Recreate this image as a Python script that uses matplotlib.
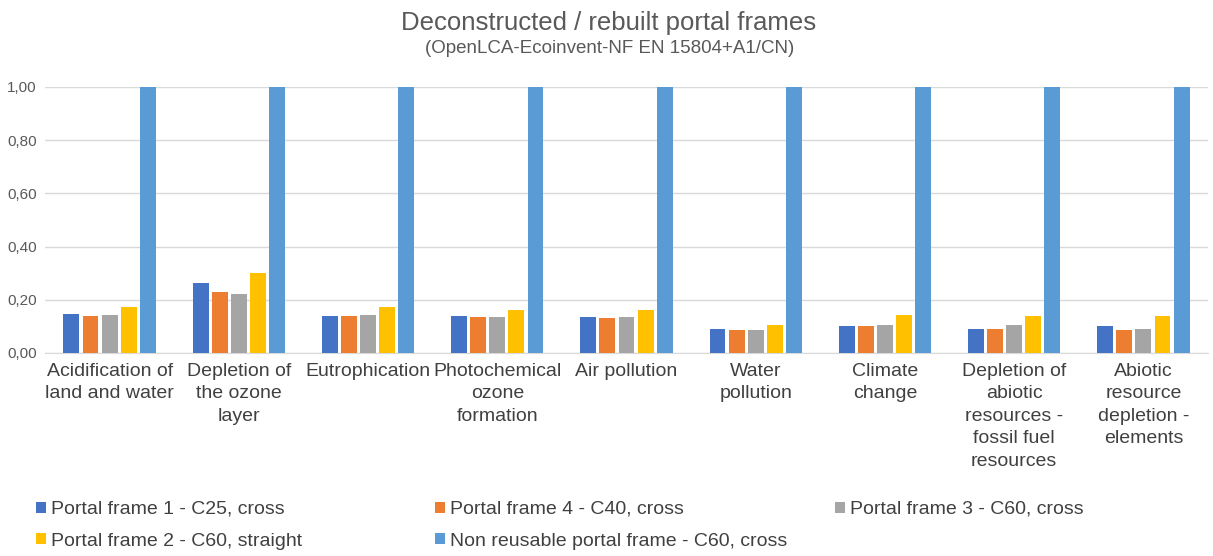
import matplotlib
matplotlib.use("Agg")
import matplotlib.pyplot as plt
import numpy as np
from matplotlib.patches import Patch

plt.rcParams['font.family'] = ['Liberation Sans', 'DejaVu Sans']

categories = [
    "Acidification of\nland and water",
    "Depletion of\nthe ozone\nlayer",
    "Eutrophication",
    "Photochemical\nozone\nformation",
    "Air pollution",
    "Water\npollution",
    "Climate\nchange",
    "Depletion of\nabiotic\nresources -\nfossil fuel\nresources",
    "Abiotic\nresource\ndepletion -\nelements",
]
series_names = [
    "Portal frame 1 - C25, cross",
    "Portal frame 4 - C40, cross",
    "Portal frame 3 - C60, cross",
    "Portal frame 2 - C60, straight",
    "Non reusable portal frame - C60, cross",
]
pf1 = [0.147, 0.263, 0.140, 0.140, 0.135, 0.092, 0.100, 0.090, 0.100]
pf4 = [0.140, 0.229, 0.140, 0.137, 0.132, 0.087, 0.103, 0.090, 0.087]
pf3 = [0.143, 0.222, 0.143, 0.137, 0.135, 0.087, 0.107, 0.105, 0.090]
pf2 = [0.173, 0.300, 0.173, 0.160, 0.160, 0.105, 0.143, 0.138, 0.140]
nonreuse = [1.0, 1.0, 1.0, 1.0, 1.0, 1.0, 1.0, 1.0, 1.0]
yticks = [0.0, 0.2, 0.4, 0.6, 0.8, 1.0]
ytick_labels = ["0,00", "0,20", "0,40", "0,60", "0,80", "1,00"]

colors = ["#4472C4", "#ED7D31", "#A5A5A5", "#FFC000", "#5B9BD5"]
series = [pf1, pf4, pf3, pf2, nonreuse]

W, H = 1213, 556
fig = plt.figure(figsize=(W / 100, H / 100), dpi=100)
ax = fig.add_axes([45 / W, 1 - 353 / H, 1 - 45 / W - 5 / W, (353 - 87) / H])

x = np.arange(len(categories))
slot = 0.148
bw = 0.123
for i, (vals, c, name) in enumerate(zip(series, colors, series_names)):
    ax.bar(x + (i - 2) * slot, vals, width=bw, color=c, label=name, zorder=3)

ax.set_xlim(-0.5, len(categories) - 0.5)
ax.set_ylim(0, 1.0)
ax.set_yticks(yticks)
ax.set_yticklabels(ytick_labels, fontsize=11, color="#595959")
ax.set_xticks(x)
ax.set_xticklabels(categories, fontsize=14, color="#404040", linespacing=1.43)
ax.tick_params(axis='both', length=0)
ax.tick_params(axis='x', pad=7)
ax.tick_params(axis='y', pad=6)
for s in ['top', 'right', 'left']:
    ax.spines[s].set_visible(False)
ax.spines['bottom'].set_color("#D9D9D9")
ax.yaxis.grid(True, color="#D9D9D9", linewidth=1, zorder=0)
ax.set_axisbelow(True)

fig.text(609 / W, 1 - 30 / H, "Deconstructed / rebuilt portal frames", ha='center', va='baseline',
         fontsize=18.5, color="#595959")
fig.text(610 / W, 1 - 53 / H, "(OpenLCA-Ecoinvent-NF EN 15804+A1/CN)", ha='center', va='baseline',
         fontsize=13.5, color="#595959")

handles = [Patch(facecolor=c, edgecolor='none') for c in colors]
columns = [[0, 3], [1, 4], [2]]
col_x = [36, 435, 835]
for idxs, cx in zip(columns, col_x):
    leg = fig.legend([handles[i] for i in idxs], [series_names[i] for i in idxs],
                     loc='upper left', bbox_to_anchor=(cx / W, 1 - 501 / H),
                     ncol=1, frameon=False, fontsize=14, handlelength=0.5, handleheight=0.5,
                     handletextpad=0.28, labelspacing=0.75, borderaxespad=0, borderpad=0)
    for t in leg.get_texts():
        t.set_color("#404040")

fig.savefig("out.png", dpi=100)
